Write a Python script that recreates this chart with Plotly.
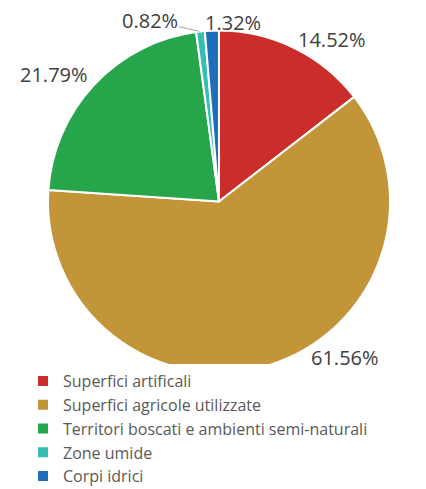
import math
import plotly.graph_objects as go

labels = ["Superfici artificali", "Superfici agricole utilizzate",
          "Territori boscati e ambienti semi-naturali", "Zone umide", "Corpi idrici"]
values = [14.52, 61.56, 21.79, 0.82, 1.32]
colors = ["#CB2D2A", "#C29638", "#26A54B", "#36BEB4", "#1E6EB9"]

# the page body adds an 8px margin, so the figure is drawn 8px in
OFF = 8
W, H = 426 - OFF, 489 - OFF


def px_x(sx):
    return (sx - OFF) / W


def px_y(sy):
    return 1 - (sy - OFF) / H


# pie geometry in screen pixels (centre and radius set through the domain)
cx, cy, r = 219, 201.5, 171
# labels follow a slightly wider ellipse, as in the original chart
rx, ry = 178, 164.5

fig = go.Figure(go.Pie(
    labels=labels,
    values=values,
    sort=False,
    direction="clockwise",
    rotation=0,
    marker=dict(colors=colors, line=dict(color="white", width=2)),
    textinfo="none",
    domain=dict(x=[px_x(cx - r), px_x(cx + r)], y=[px_y(cy + r), px_y(cy - r)]),
    hoverinfo="label+value",
))

# percentage labels placed just outside each slice
label_font = dict(size=20, color="#404040", family="Open Sans, sans-serif")
total = sum(values)
cum = 0
ymax = 370  # lowest pixel a label may reach
lab_h = 27
for i, v in enumerate(values):
    theta = 2 * math.pi * (cum + v / 2) / total
    cum += v
    s, c = math.sin(theta), -math.cos(theta)
    txt = f"{v:.2f}%"
    if v < 1:
        # tiny slice: text pulled aside with a leader line
        fig.add_annotation(x=px_x(cx + r * s), y=px_y(cy + r * c),
                           xref="paper", yref="paper",
                           text=txt, font=label_font, showarrow=True,
                           arrowhead=0, arrowwidth=1, arrowcolor="#A6A6A6",
                           ax=-50, ay=-11, standoff=1, borderpad=0)
        continue
    if c > 0:
        # keep lower labels above the legend by sliding them along the rim
        k = (ymax - lab_h - cy) / ry
        if c > k:
            c = k
            s = math.copysign(math.sqrt(1 - k * k), s)
    xanchor = "left" if s > 0 else "right"
    yanchor = "bottom" if c < 0 else "top"
    xshift, yshift = 0, 0
    lx, ly = cx + rx * s, cy + ry * c
    if abs(s) < 0.1:
        xanchor, xshift, yshift = "left", -8, -6
        lx, ly = cx + r * s, cy + r * c
    fig.add_annotation(x=px_x(lx), y=px_y(ly), xref="paper", yref="paper",
                       text=txt, font=label_font, showarrow=False,
                       xanchor=xanchor, yanchor=yanchor, borderpad=0,
                       xshift=xshift, yshift=yshift)

fig.update_layout(
    width=W, height=H,
    margin=dict(l=0, r=0, t=0, b=0, autoexpand=False),
    paper_bgcolor="white",
    font=dict(family="Open Sans, sans-serif"),
    showlegend=True,
    legend=dict(
        x=px_x(23), y=px_y(364), xanchor="left", yanchor="top",
        font=dict(size=16, color="#595959"),
        itemclick=False,
    ),
)

fig.write_html("out.html")
